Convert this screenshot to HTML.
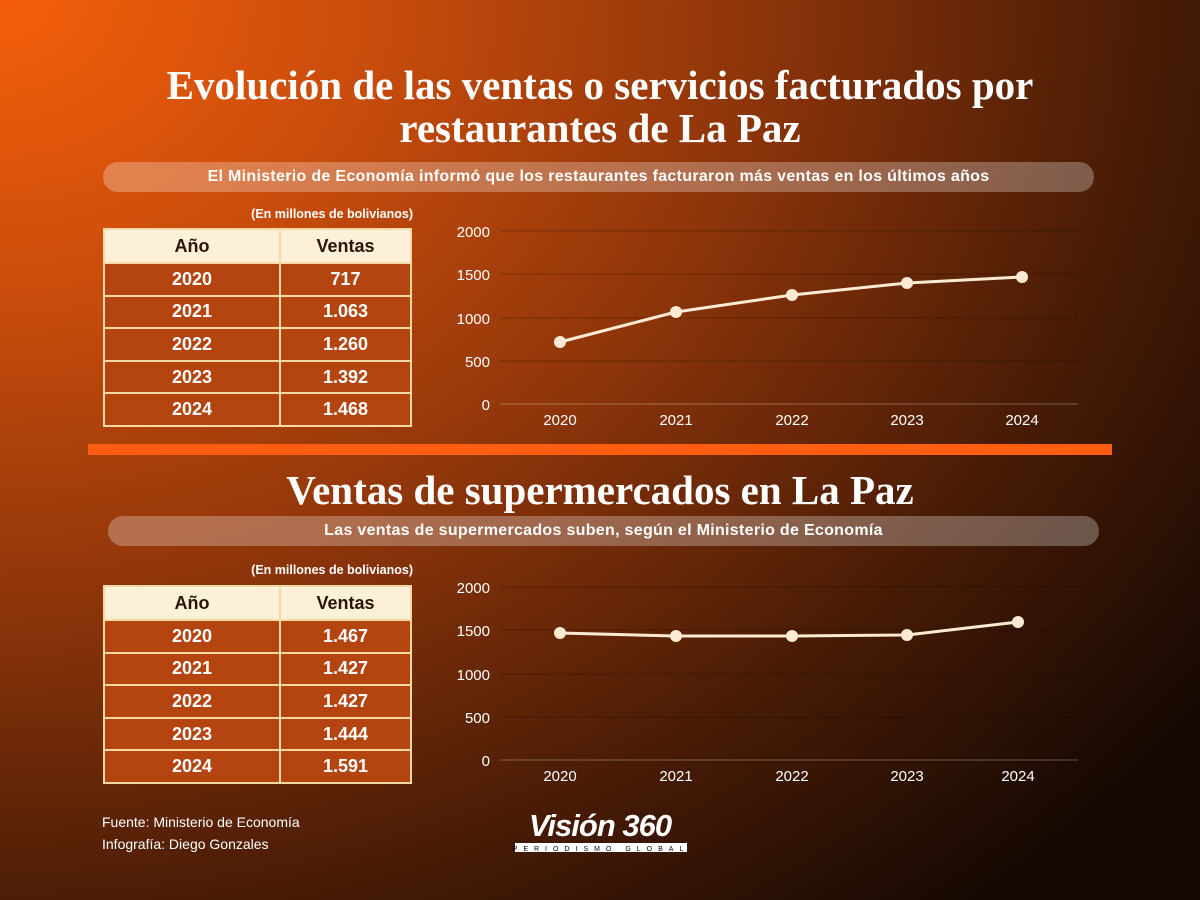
<!DOCTYPE html>
<html><head><meta charset="utf-8"><style>
*{margin:0;padding:0;box-sizing:border-box}
body{width:1200px;height:900px;overflow:hidden;position:relative;font-family:"Liberation Sans",sans-serif;color:#fff;
background:radial-gradient(ellipse 1500px 1200px at 0% 0%,#f55f0a 0%,#c84c0c 25%,#8e350a 50%,#4c1d06 75%,#140803 100%);}
.t{position:absolute;left:0;width:1200px;text-align:center;font-family:"Liberation Serif",serif;font-weight:bold;font-size:41px;letter-spacing:0;line-height:43px;}
.pill{position:absolute;height:30px;border-radius:15px;background:rgba(255,255,255,0.28);font-weight:bold;font-size:16px;line-height:30px;text-align:center;letter-spacing:0.3px}
.cap{position:absolute;font-size:12.5px;font-weight:bold;width:320px;text-align:right}
table{position:absolute;border-collapse:collapse;width:309px}
td{border:2.5px solid #f6d8a4;height:32.6px;text-align:center;font-weight:bold;font-size:18px;background:#b54510}
td:first-child{width:176px}
tr.h td{background:#fcf0d8;color:#2a1505;height:34px}
.bar{position:absolute;left:88px;top:444px;width:1024px;height:11px;background:#ff5e12}
.foot{position:absolute;left:102px;top:811px;font-size:14px;line-height:22px}
</style></head><body>
<div class="t" style="top:64px">Evolución de las ventas o servicios facturados por<br>restaurantes de La Paz</div>
<div class="pill" style="left:103px;top:162px;width:991px">El Ministerio de Economía informó que los restaurantes facturaron más ventas en los últimos años</div>
<div class="cap" style="left:93px;top:207px">(En millones de bolivianos)</div>
<table style="left:103px;top:228px">
<tr class="h"><td>Año</td><td>Ventas</td></tr>
<tr><td>2020</td><td>717</td></tr><tr><td>2021</td><td>1.063</td></tr><tr><td>2022</td><td>1.260</td></tr><tr><td>2023</td><td>1.392</td></tr><tr><td>2024</td><td>1.468</td></tr></table>
<svg style="position:absolute;left:0;top:0" width="1200" height="900" font-family="Liberation Sans,sans-serif" font-size="15" fill="#fff">
<g stroke="rgba(0,0,0,0.25)" stroke-width="1">
<line x1="500" x2="1078" y1="231" y2="231"/><line x1="500" x2="1078" y1="274" y2="274"/><line x1="500" x2="1078" y1="318" y2="318"/><line x1="500" x2="1078" y1="361" y2="361"/><line x1="500" x2="1078" y1="404" y2="404" stroke="rgba(255,255,255,0.3)"/>
<line x1="500" x2="1078" y1="587" y2="587"/><line x1="500" x2="1078" y1="630" y2="630"/><line x1="500" x2="1078" y1="674" y2="674"/><line x1="500" x2="1078" y1="717" y2="717"/><line x1="500" x2="1078" y1="760" y2="760" stroke="rgba(255,255,255,0.3)"/>
</g>
<g text-anchor="end"><text x="490" y="237">2000</text><text x="490" y="280">1500</text><text x="490" y="324">1000</text><text x="490" y="367">500</text><text x="490" y="410">0</text>
<text x="490" y="593">2000</text><text x="490" y="636">1500</text><text x="490" y="680">1000</text><text x="490" y="723">500</text><text x="490" y="766">0</text></g>
<g text-anchor="middle"><text x="560" y="425">2020</text><text x="676" y="425">2021</text><text x="792" y="425">2022</text><text x="907" y="425">2023</text><text x="1022" y="425">2024</text>
<text x="560" y="781">2020</text><text x="676" y="781">2021</text><text x="792" y="781">2022</text><text x="907" y="781">2023</text><text x="1018" y="781">2024</text></g>
<polyline fill="none" stroke="#fcebd2" stroke-width="3" points="560,342 676,312 792,295 907,283 1022,277"/>
<g fill="#fcebd2"><circle cx="560" cy="342" r="6"/><circle cx="676" cy="312" r="6"/><circle cx="792" cy="295" r="6"/><circle cx="907" cy="283" r="6"/><circle cx="1022" cy="277" r="6"/></g>
<polyline fill="none" stroke="#fcebd2" stroke-width="3" points="560,633 676,636 792,636 907,635 1018,622"/>
<g fill="#fcebd2"><circle cx="560" cy="633" r="6"/><circle cx="676" cy="636" r="6"/><circle cx="792" cy="636" r="6"/><circle cx="907" cy="635" r="6"/><circle cx="1018" cy="622" r="6"/></g>
<text x="600" y="836" text-anchor="middle" font-size="31" font-weight="bold" font-style="italic" letter-spacing="-1">Visión 360</text>
<rect x="515" y="843" width="172" height="9" fill="#fff"/>
<text x="601" y="851" text-anchor="middle" font-size="7" fill="#000" letter-spacing="6">PERIODISMO GLOBAL</text>
</svg>
<div class="bar"></div>
<div class="t" style="top:469px">Ventas de supermercados en La Paz</div>
<div class="pill" style="left:108px;top:516px;width:991px">Las ventas de supermercados suben, según el Ministerio de Economía</div>
<div class="cap" style="left:93px;top:563px">(En millones de bolivianos)</div>
<table style="left:103px;top:585px">
<tr class="h"><td>Año</td><td>Ventas</td></tr>
<tr><td>2020</td><td>1.467</td></tr><tr><td>2021</td><td>1.427</td></tr><tr><td>2022</td><td>1.427</td></tr><tr><td>2023</td><td>1.444</td></tr><tr><td>2024</td><td>1.591</td></tr></table>
<div class="foot">Fuente: Ministerio de Economía<br>Infografía: Diego Gonzales</div>
</body></html>
